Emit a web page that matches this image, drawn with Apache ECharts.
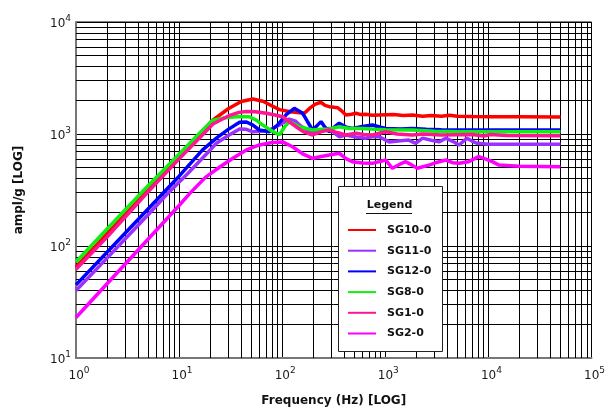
<!DOCTYPE html>
<html><head><meta charset="utf-8">
<script src="https://cdn.jsdelivr.net/npm/echarts@6/dist/echarts.min.js"></script>
<style>html,body{margin:0;padding:0;background:#fff}#c{width:608px;height:412px}</style>
</head><body><div id="c"></div>
<script>
// ---- data ----
const seriesNames = ['SG10-0', 'SG11-0', 'SG12-0', 'SG8-0', 'SG1-0', 'SG2-0'];
const seriesColors = ['#ff0000', '#9b30ff', '#0000ff', '#11ee11', '#ff1493', '#ff00ff'];

const sg10Freq = [1, 2, 5, 10, 15, 21, 30, 40, 52, 65, 80, 94, 120, 164, 185, 210, 238, 260, 286, 320, 344, 380, 415, 470, 519, 580, 646, 750, 871, 1200, 1500, 1830, 2300, 2800, 3500, 4200, 5000, 7000, 10000, 20000, 50000];
const sg10Vals = [65, 129, 318, 630, 940, 1320, 1680, 1950, 2050, 1960, 1780, 1650, 1580, 1530, 1700, 1850, 1920, 1800, 1754, 1730, 1718, 1600, 1480, 1500, 1530, 1490, 1500, 1470, 1480, 1490, 1460, 1480, 1440, 1460, 1440, 1470, 1440, 1430, 1425, 1425, 1420];

const sg11Freq = [1, 2, 5, 7.5, 12, 18, 23, 30, 38.6, 45, 52, 62, 75, 94, 117, 135, 147, 170, 197, 240, 286, 330, 357, 415, 520, 646, 750, 871, 1090, 1400, 1690, 1970, 2300, 2800, 3320, 3860, 4500, 5200, 6200, 7000, 7780, 10000, 20000, 50000];
const sg11Vals = [40, 78, 190, 285, 440, 650, 826, 968, 1110, 1100, 1047, 1060, 1086, 1202, 1360, 1300, 1202, 1100, 1047, 1090, 1122, 1000, 946, 980, 940, 918, 950, 946, 850, 870, 883, 826, 918, 880, 850, 918, 860, 798, 918, 860, 826, 810, 812, 812];

const sg12Freq = [1, 2, 5, 10, 16.8, 23, 30, 38.6, 45, 52, 60, 75, 90, 110, 131, 158, 175, 197, 220, 238, 260, 286, 320, 357, 420, 478, 600, 750, 900, 1011, 1400, 1830, 2500, 3500, 5000, 10000, 50000];
const sg12Vals = [45, 88, 214, 420, 719, 918, 1100, 1271, 1280, 1200, 1086, 1047, 1200, 1500, 1695, 1530, 1300, 1086, 1200, 1290, 1150, 1047, 1150, 1248, 1150, 1122, 1170, 1202, 1150, 1122, 1110, 1122, 1100, 1090, 1085, 1085, 1085];

const sg8Freq = [1, 2, 5, 10, 15, 21, 28, 38.6, 48, 56, 64.8, 75, 85, 94, 105, 117, 130, 147, 197, 240, 286, 357, 450, 601, 800, 1000, 1830, 3000, 5000, 10000, 50000];
const sg8Vals = [72, 142, 345, 660, 970, 1320, 1400, 1430, 1426, 1330, 1202, 1100, 1030, 985, 1150, 1290, 1230, 1162, 1086, 1100, 1110, 1162, 1120, 1122, 1100, 1090, 1086, 1060, 1050, 1050, 1050];

const sg1Freq = [1, 2, 5, 10, 15, 21.3, 30, 38, 44.8, 55, 70, 85, 101, 118, 136, 160, 197, 240, 286, 340, 415, 519, 620, 750, 1011, 1300, 1830, 2300, 2800, 3500, 7000, 9000, 10500, 15000, 50000];
const sg1Vals = [62, 120, 305, 600, 880, 1230, 1450, 1560, 1586, 1580, 1530, 1480, 1426, 1280, 1162, 1050, 980, 1050, 1086, 1030, 980, 1014, 990, 980, 1047, 1000, 980, 1000, 990, 980, 990, 960, 990, 970, 965];

const sg2Freq = [1, 2, 5, 10, 12.7, 18, 25, 33.2, 45, 60, 80, 101, 126, 160, 197, 240, 286, 357, 420, 478, 600, 750, 1011, 1170, 1400, 1580, 1800, 2040, 2650, 3200, 3860, 4500, 5200, 6440, 8050, 9300, 10900, 12700, 20000, 50000];
const sg2Vals = [23, 46, 115, 230, 295, 410, 510, 607, 720, 798, 840, 850, 770, 660, 607, 630, 649, 673, 600, 566, 550, 547, 586, 494, 540, 566, 530, 494, 528, 560, 586, 555, 547, 566, 628, 600, 566, 528, 515, 511];

const xTickExps = ['0', '1', '2', '3', '4', '5'];
const yTickExps = ['1', '2', '3', '4'];
const xDecades = [1, 10, 100, 1000, 10000];
const yDecades = [10, 100, 1000];
const minorMult = [2, 3, 4, 5, 6, 7, 8, 9];

const freqs = [sg10Freq, sg11Freq, sg12Freq, sg8Freq, sg1Freq, sg2Freq];
const vals = [sg10Vals, sg11Vals, sg12Vals, sg8Vals, sg1Vals, sg2Vals];

// ---- chart ----
const FONT = 'DejaVu Sans';
const chart = echarts.init(document.getElementById('c'));

const minorLines = [];
xDecades.forEach(d => minorMult.forEach(m => minorLines.push({ xAxis: d * m })));
yDecades.forEach(d => minorMult.forEach(m => minorLines.push({ yAxis: d * m })));

const series = [{
  type: 'line', data: [], silent: true, z: 1,
  markLine: {
    silent: true, symbol: 'none', animation: false, z: 1,
    label: { show: false }, emphasis: { disabled: true },
    lineStyle: { color: '#000', width: 1, type: 'solid' },
    data: minorLines
  }
}];
seriesNames.forEach((n, i) => {
  series.push({
    name: n, type: 'line', z: 3,
    data: freqs[i].map((f, j) => [f, vals[i][j]]),
    showSymbol: false, symbol: 'none',
    lineStyle: { color: seriesColors[i], width: 3.5 },
    itemStyle: { color: seriesColors[i] },
    emphasis: { disabled: true }
  });
});

const richX = {
  p: { width: 6, fontSize: 9 },
  b: { fontFamily: FONT, fontSize: 12, color: '#1a1a1a', verticalAlign: 'bottom' },
  s: { fontFamily: FONT, fontSize: 9, color: '#1a1a1a', verticalAlign: 'bottom', padding: [0, 0, 7, 0] }
};
const richY = {
  b: { fontFamily: FONT, fontSize: 12, color: '#1a1a1a', verticalAlign: 'bottom' },
  s: { fontFamily: FONT, fontSize: 9, color: '#1a1a1a', verticalAlign: 'bottom', padding: [0, 0, 7, 0] }
};

chart.setOption({
  animation: false,
  backgroundColor: '#fff',
  grid: { left: 76, right: 15, top: 22, bottom: 54, show: true, borderColor: '#000', borderWidth: 1, backgroundColor: 'transparent' },
  xAxis: {
    type: 'log', logBase: 10, min: 1, max: 100000, interval: 1,
    name: 'Frequency (Hz) [LOG]', nameLocation: 'middle', nameGap: 37,
    nameTextStyle: { fontFamily: FONT, fontSize: 12, fontWeight: 'bold', color: '#111' },
    axisLine: { show: true, lineStyle: { color: '#777', width: 2 } },
    axisTick: { show: false },
    splitLine: { show: true, lineStyle: { color: '#000', width: 1 } },
    axisLabel: {
      margin: 8,
      formatter: (v, i) => '{p|}{b|10}{s|' + xTickExps[i] + '}',
      rich: richX
    }
  },
  yAxis: {
    type: 'log', logBase: 10, min: 10, max: 10000, interval: 1,
    name: 'ampl/g [LOG]', nameLocation: 'middle', nameGap: 51, nameRotate: 90,
    nameTextStyle: { fontFamily: FONT, fontSize: 12, fontWeight: 'bold', color: '#111' },
    axisLine: { show: true, lineStyle: { color: '#777', width: 2 } },
    axisTick: { show: false },
    splitLine: { show: true, lineStyle: { color: '#000', width: 1 } },
    axisLabel: {
      margin: 5,
      formatter: (v, i) => '{b|10}{s|' + yTickExps[i] + '}',
      rich: richY
    }
  },
  legend: {
    data: seriesNames, orient: 'vertical', left: 348, top: 223, padding: 0,
    icon: 'rect', itemWidth: 28, itemHeight: 2, itemGap: 6.7,
    selectedMode: false, z: 20,
    textStyle: { fontFamily: FONT, fontSize: 11, fontWeight: 'bold', color: '#111', lineHeight: 14, padding: [0, 0, 0, 6] }
  },
  graphic: [
    { type: 'rect', z: 15, shape: { x: 338.5, y: 186.5, width: 104, height: 165 }, style: { fill: '#fff', stroke: '#222', lineWidth: 1 } },
    { type: 'text', z: 16, x: 389.5, y: 205, style: { text: 'Legend', fontFamily: FONT, fontSize: 11, fontWeight: 'bold', fill: '#111', align: 'center', verticalAlign: 'middle' } },
    { type: 'line', z: 16, shape: { x1: 366, y1: 213.5, x2: 412, y2: 213.5 }, style: { stroke: '#111', lineWidth: 1 } }
  ],
  series: series
});
</script>
</body></html>
